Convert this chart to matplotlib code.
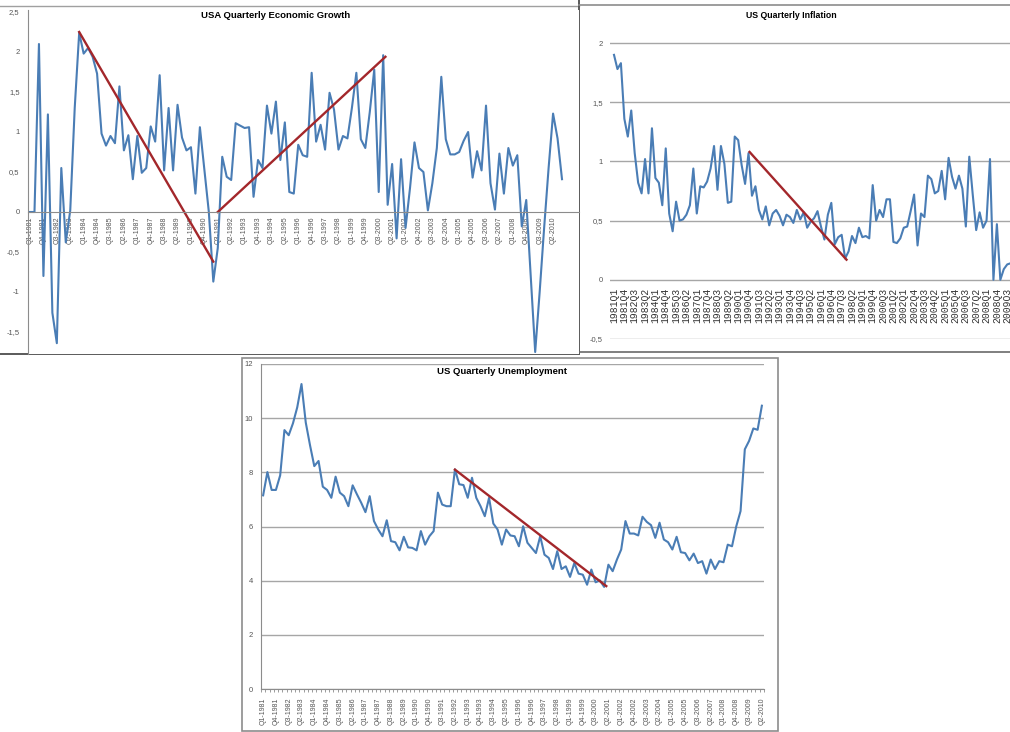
import numpy as np
import matplotlib
matplotlib.use("Agg")
import matplotlib.pyplot as plt
from matplotlib.patches import Rectangle
from matplotlib.lines import Line2D

W, H = 1010, 732

# quarterly real GDP growth (%), first two quarters blank
gdp_growth = [
    0.0, 0.0, 2.10, -0.80, 1.22, -1.26, -1.64, 0.55, -0.38, 0.02,
    1.30, 2.24, 1.98, 2.05, 1.94, 1.73, 0.98, 0.83, 0.95, 0.86,
    1.57, 0.77, 0.96, 0.41, 0.95, 0.49, 0.55, 1.07, 0.88, 1.71,
    0.52, 1.30, 0.52, 1.34, 0.93, 0.77, 0.81, 0.23, 1.06, 0.53,
    0.0, -0.87, -0.45, 0.69, 0.44, 0.40, 1.11, 1.08, 1.05, 1.06,
    0.19, 0.65, 0.55, 1.33, 0.98, 1.38, 0.65, 1.12, 0.25, 0.23,
    0.84, 0.71, 0.69, 1.74, 0.88, 1.09, 0.78, 1.49, 1.28, 0.78,
    0.95, 0.92, 1.30, 1.74, 0.91, 0.80, 1.25, 1.78, 0.25, 1.96,
    0.09, 0.60, -0.33, 0.66, -0.20, 0.30, 0.87, 0.55, 0.50, 0.02,
    0.36, 0.80, 1.69, 0.91, 0.72, 0.72, 0.75, 0.89, 1.00, 0.43,
    0.76, 0.52, 1.33, 0.36, 0.03, 0.73, 0.23, 0.80, 0.58, 0.71,
    -0.18, 0.15, -0.80, -1.75, -1.00, -0.20, 0.55, 1.23, 0.92, 0.41,
]
gdp_trend_x = [[11, 41], [42, 79.5]]
gdp_trend_y = [[2.25, -0.62], [0.0, 1.94]]
gdp_yticks = [2.5, 2, 1.5, 1, 0.5, 0, -0.5, -1, -1.5]
gdp_ylabels = ["2,5", "2", "1,5", "1", "0,5", "0", "-0,5", "-1", "-1,5"]

# quarterly CPI inflation (%)
inflation = [
    1.90, 1.78, 1.83, 1.36, 1.21, 1.43, 1.07, 0.82, 0.73, 1.02,
    0.73, 1.28, 0.86, 0.82, 0.63, 1.11, 0.56, 0.41, 0.66, 0.50,
    0.51, 0.55, 0.63, 0.94, 0.56, 0.79, 0.78, 0.83, 0.94, 1.13,
    0.76, 1.13, 0.98, 0.65, 0.66, 1.21, 1.18, 0.97, 0.81, 1.07,
    0.71, 0.79, 0.59, 0.51, 0.62, 0.46, 0.56, 0.59, 0.54, 0.46,
    0.55, 0.53, 0.48, 0.59, 0.51, 0.57, 0.44, 0.49, 0.52, 0.58,
    0.45, 0.34, 0.55, 0.65, 0.30, 0.36, 0.38, 0.18, 0.24, 0.37,
    0.31, 0.44, 0.36, 0.37, 0.35, 0.80, 0.50, 0.59, 0.53, 0.68,
    0.68, 0.32, 0.31, 0.35, 0.44, 0.45, 0.58, 0.72, 0.29, 0.56,
    0.53, 0.88, 0.85, 0.73, 0.75, 0.92, 0.68, 1.03, 0.87, 0.77,
    0.88, 0.77, 0.45, 1.04, 0.72, 0.42, 0.57, 0.44, 0.50, 1.02,
    0.00, 0.47, 0.00, 0.09, 0.13, 0.14,
]
infl_trend_x = [39.3, 67.4]
infl_trend_y = [1.08, 0.17]
infl_yticks = [2, 1.5, 1, 0.5, 0, -0.5]
infl_ylabels = ["2", "1,5", "1", "0,5", "0", "-0,5"]

# quarterly unemployment rate (%)
unemployment = [
    7.15, 8.01, 7.35, 7.35, 7.89, 9.56, 9.37, 9.81, 10.4, 11.26,
    9.84, 9.0, 8.23, 8.42, 7.47, 7.35, 7.06, 7.84, 7.25, 7.12,
    6.75, 7.52, 7.19, 6.88, 6.53, 7.12, 6.20, 5.89, 5.64, 6.23,
    5.46, 5.42, 5.12, 5.62, 5.23, 5.21, 5.12, 5.83, 5.33, 5.64,
    5.83, 7.25, 6.81, 6.75, 6.75, 8.11, 7.56, 7.53, 7.06, 7.80,
    7.06, 6.75, 6.38, 7.06, 6.11, 5.89, 5.33, 5.89, 5.67, 5.64,
    5.27, 6.01, 5.40, 5.21, 5.02, 5.64, 4.96, 4.84, 4.43, 5.09,
    4.43, 4.53, 4.14, 4.65, 4.26, 4.22, 3.85, 4.41, 3.94, 4.01,
    3.77, 4.59, 4.35, 4.78, 5.15, 6.20, 5.74, 5.74, 5.67, 6.36,
    6.17, 6.05, 5.58, 6.14, 5.52, 5.42, 5.15, 5.62, 5.05, 5.02,
    4.75, 5.0, 4.65, 4.72, 4.26, 4.78, 4.43, 4.72, 4.68, 5.33,
    5.27, 6.01, 6.57, 8.85, 9.16, 9.62, 9.57, 10.46,
]
unemp_trend_x = [45, 80.5]
unemp_trend_y = [8.1, 3.8]
unemp_yticks = [0, 2, 4, 6, 8, 10, 12]

label_pos = list(range(0, 118, 3))
dash_labels = [f"Q{i % 4 + 1}-{1981 + i // 4}" for i in label_pos]
infl_label_pos = list(range(0, 115, 3))
infl_labels = [f"{1981 + i // 4}Q{i % 4 + 1}" for i in infl_label_pos]

BLUE = "#4a7db5"
RED = "#a3272b"
GRID = "#a6a6a6"
TXT = "#555555"

plt.rcParams["font.family"] = ["Liberation Sans", "DejaVu Sans"]

fig = plt.figure(figsize=(W / 100, H / 100), dpi=100)
fig.patch.set_facecolor("white")


def px_axes(left, top, right, bottom):
    return fig.add_axes([left / W, 1 - bottom / H, (right - left) / W, (bottom - top) / H])


def px_line(x0, y0, x1, y1, color, lw):
    fig.add_artist(Line2D([x0 / W, x1 / W], [1 - y0 / H, 1 - y1 / H],
                          transform=fig.transFigure, color=color, lw=lw, zorder=0))


def frame(left, top, right, bottom, color, lw):
    fig.patches.append(Rectangle((left / W, 1 - bottom / H), (right - left) / W,
                                 (bottom - top) / H, transform=fig.transFigure,
                                 fill=False, ec=color, lw=lw, zorder=0))


# panel borders
px_line(0, 6, 579, 6, "#a0a0a0", 1.0)
px_line(0, 354, 579, 354, "#5a5a5a", 1.4)
px_line(579, 0, 579, 354, "#5a5a5a", 1.4)
px_line(579, 5, 1010, 5, "#8c8c8c", 1.2)
px_line(579, 352, 1010, 352, "#6a6a6a", 1.2)
frame(242, 358, 778, 731, "#8c8c8c", 1.2)

# --- economic growth ---
ax = px_axes(28, 10, 579, 354)
ax.plot(range(len(gdp_growth)), gdp_growth, color=BLUE, lw=1.5)
for xs, ys in zip(gdp_trend_x, gdp_trend_y):
    ax.plot(xs, ys, color=RED, lw=1.7)
ax.set_xlim(-0.45, 122.8)
ax.set_ylim(-1.775, 2.525)
for s in ("top", "right"):
    ax.spines[s].set_visible(False)
ax.spines["bottom"].set_position(("data", 0))
ax.spines["bottom"].set_color("#8c8c8c")
ax.spines["left"].set_color("#8c8c8c")
ax.set_xticks(label_pos)
ax.set_xticklabels(dash_labels, rotation=90, fontsize=5, color=TXT)
ax.set_yticks(gdp_yticks)
ax.set_yticklabels(gdp_ylabels, fontsize=5.5, color=TXT)
ax.tick_params(axis="x", length=0, pad=3)
ax.tick_params(axis="y", length=0, pad=6)
fig.text(276 / W, 1 - 15 / H, "USA Quarterly Economic Growth", ha="center", va="center",
         fontsize=6.8, fontweight="bold")

# --- inflation ---
ax = px_axes(610, 30, 1040, 339)
ax.plot(range(len(inflation)), inflation, color=BLUE, lw=1.5)
ax.plot(infl_trend_x, infl_trend_y, color=RED, lw=1.7)
ax.set_xlim(-1.16, 123.5)
ax.set_ylim(-0.5, 2.11)
for s in ax.spines.values():
    s.set_visible(False)
ax.spines["bottom"].set_position(("data", 0))
ax.set_yticks(infl_yticks)
ax.set_yticklabels(infl_ylabels, fontsize=5.5, color=TXT)
ax.yaxis.grid(True, color=GRID, lw=1.0)
ax.set_axisbelow(True)
ax.set_xticks(infl_label_pos)
ax.set_xticklabels(infl_labels, rotation=90, fontsize=7, color="#333333",
                   family=["Liberation Mono", "DejaVu Sans Mono"])
ax.tick_params(axis="x", length=0, pad=6)
ax.tick_params(axis="y", length=0, pad=5)
fig.text(791 / W, 1 - 15 / H, "US Quarterly Inflation", ha="center", va="center",
         fontsize=6.3, fontweight="bold")

# --- unemployment ---
ax = px_axes(261, 364, 764, 689)
ax.plot(range(len(unemployment)), unemployment, color=BLUE, lw=1.5)
ax.plot(unemp_trend_x, unemp_trend_y, color=RED, lw=1.7)
ax.set_xlim(-0.5, len(unemployment) - 0.5)
ax.set_ylim(0, 12)
for s in ("top", "right"):
    ax.spines[s].set_visible(False)
ax.spines["bottom"].set_color("#8c8c8c")
ax.spines["left"].set_color("#8c8c8c")
ax.set_yticks(unemp_yticks)
ax.set_yticklabels([str(v) for v in unemp_yticks], fontsize=5.5, color=TXT)
ax.yaxis.grid(True, color=GRID, lw=1.0)
ax.set_axisbelow(True)
ax.set_xticks(label_pos)
ax.set_xticklabels(dash_labels, rotation=90, fontsize=5, color=TXT)
ax.set_xticks(np.arange(-0.5, len(unemployment), 1), minor=True)
ax.tick_params(axis="x", which="major", length=0, pad=6)
ax.tick_params(axis="x", which="minor", length=2.5, color="#8c8c8c", width=0.6)
ax.tick_params(axis="y", length=0, pad=6)
fig.text(502 / W, 1 - 372 / H, "US Quarterly Unemployment", ha="center", va="center",
         fontsize=6.8, fontweight="bold")

fig.savefig("out.png", dpi=100)
